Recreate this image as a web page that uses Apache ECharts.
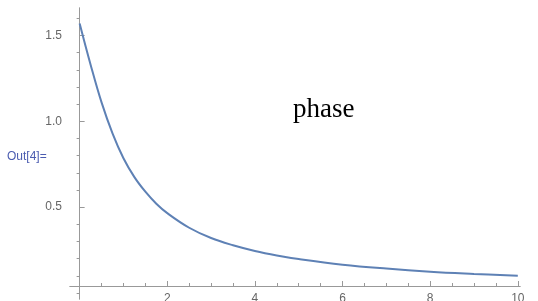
<!DOCTYPE html>
<html>
<head>
<meta charset="utf-8">
<script src="https://cdn.jsdelivr.net/npm/echarts@6/dist/echarts.min.js"></script>
<style>
  html, body { margin: 0; padding: 0; background: #fff; }
  #chart { width: 538px; height: 301px; }
</style>
</head>
<body>
<div id="chart"></div>
<script>
// values
var xs = [0, 0.25, 0.5, 0.75, 1, 1.25, 1.5, 1.75, 2, 2.5, 3, 3.5, 4, 4.5, 5, 6, 7, 8, 9, 10];
var phase = [1.57, 1.33, 1.11, 0.93, 0.785, 0.675, 0.59, 0.52, 0.465, 0.38, 0.32, 0.278, 0.245, 0.219, 0.198, 0.165, 0.142, 0.124, 0.111, 0.1];
var xMajor = [2, 4, 6, 8, 10];
var xMinor = [0.5, 1, 1.5, 2.5, 3, 3.5, 4.5, 5, 5.5, 6.5, 7, 7.5, 8.5, 9, 9.5];
var yMajor = [0.5, 1.0, 1.5];
var yMinor = [0, 0.1, 0.2, 0.3, 0.4, 0.6, 0.7, 0.8, 0.9, 1.1, 1.2, 1.3, 1.4, 1.6];

var axisGray = '#999';
var labelGray = '#666';

var myChart = echarts.init(document.getElementById('chart'));
var points = [];
for (var i = 0; i < xs.length; i++) {
  points.push([xs[i], phase[i]]);
}

function xAx(ticks, len, showLabel) {
  return {
    type: 'value', min: -0.22, max: 10.05,
    position: 'bottom', offset: -13,
    axisLine: { onZero: false, lineStyle: { color: axisGray, width: 1 } },
    axisTick: { show: true, inside: true, length: len, customValues: ticks, lineStyle: { color: axisGray } },
    axisLabel: {
      show: showLabel, customValues: ticks, color: labelGray,
      fontFamily: 'Liberation Sans, Arial', fontSize: 12, margin: 7
    },
    splitLine: { show: false }
  };
}
function yAx(ticks, len, showLabel) {
  return {
    type: 'value', min: -0.035, max: 1.66,
    axisLine: { onZero: true, lineStyle: { color: axisGray, width: 1 } },
    axisTick: { show: true, inside: true, length: len, customValues: ticks, lineStyle: { color: axisGray } },
    axisLabel: {
      show: showLabel, customValues: ticks, color: labelGray,
      fontFamily: 'Liberation Sans, Arial', fontSize: 12, margin: 8,
      formatter: function (v) { return v.toFixed(1); }
    },
    splitLine: { show: false }
  };
}

myChart.setOption({
  animation: false,
  grid: { left: 70, right: 18, top: 8, bottom: 2, containLabel: false, outerBoundsMode: 'none' },
  xAxis: [xAx(xMajor, 5, true), xAx(xMinor, 3, false)],
  yAxis: [yAx(yMajor, 5, true), yAx(yMinor, 3, false)],
  graphic: [
    {
      type: 'text', left: 293, top: 96,
      style: { text: 'phase', fill: '#000', font: '27px "Liberation Serif", "Times New Roman", serif' }
    },
    {
      type: 'text', left: 7, top: 151,
      style: { text: 'Out[4]=', fill: '#4b5cb0', font: '12px "Liberation Sans", Arial, sans-serif' }
    }
  ],
  series: [
    {
      name: 'phase',
      type: 'line',
      xAxisIndex: 0, yAxisIndex: 0,
      data: points,
      smooth: 0.4,
      showSymbol: false,
      lineStyle: { color: '#5e81b5', width: 2 }
    }
  ]
});
</script>
</body>
</html>
